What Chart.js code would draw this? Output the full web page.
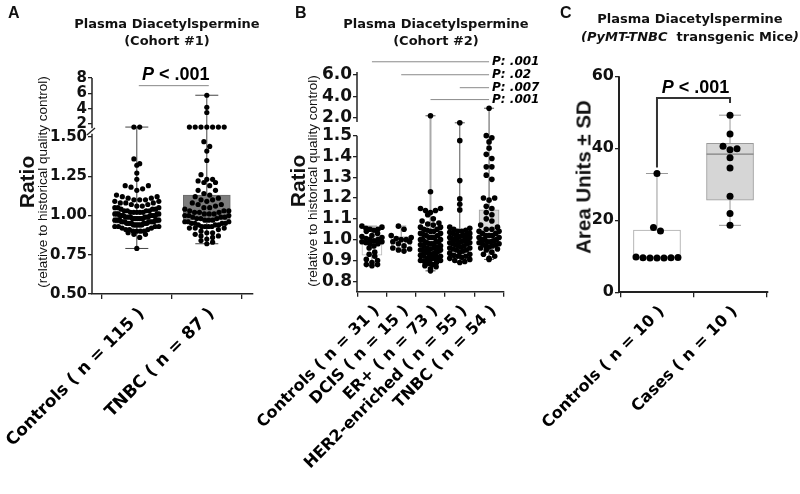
<!DOCTYPE html>
<html><head><meta charset="utf-8">
<script src="https://cdn.jsdelivr.net/npm/chart.js"></script>
<style>
html,body{margin:0;padding:0;background:#fff;}
#wrap{position:relative;width:800px;height:494px;overflow:hidden;background:#fff;}
canvas{position:absolute;top:0;}
.t{position:absolute;white-space:nowrap;color:#111;}
.letter{font:bold 16px "Liberation Sans",Arial,sans-serif;line-height:16px;}
.title{font:bold 13px "DejaVu Sans",sans-serif;line-height:17px;text-align:center;transform:translateX(-50%);}
.rot{transform:translate(-50%,-50%) rotate(-90deg);}
.ytl{font:bold 21px "Liberation Sans",Arial,sans-serif;line-height:21px;}
.yts{font:13.5px "Liberation Sans",Arial,sans-serif;line-height:14px;}
</style></head>
<body><div id="wrap">
<canvas id="chartA" width="280" height="494" style="left:0;width:280px;height:494px"></canvas>
<canvas id="chartB" width="315" height="494" style="left:245px;width:315px;height:494px"></canvas>
<canvas id="chartC" width="280" height="494" style="left:520px;width:280px;height:494px"></canvas>

<div class="t letter" style="left:8px;top:5px">A</div>
<div class="t letter" style="left:295px;top:5px">B</div>
<div class="t letter" style="left:560px;top:5px">C</div>

<div class="t title" style="left:167px;top:15px">Plasma Diacetylspermine<br>(Cohort #1)</div>
<div class="t title" style="left:436px;top:15px">Plasma Diacetylspermine<br>(Cohort #2)</div>
<div class="t title" style="left:690px;top:10px;line-height:18.3px">Plasma Diacetylspermine<br><i>(PyMT-TNBC</i>&nbsp; transgenic Mice<i>)</i></div>

<div class="t ytl rot" style="left:25.5px;top:182px">Ratio</div>
<div class="t yts rot" style="left:43px;top:181.5px">(relative to historical quality control)</div>
<div class="t ytl rot" style="left:296.5px;top:181px">Ratio</div>
<div class="t yts rot" style="left:313px;top:181px">(relative to historical quality control)</div>
<div class="t ytl rot" style="left:583px;top:177px;font-size:20.5px">Area Units ± SD</div>
</div>
<script>
// ---------------- DATA ----------------
// Panel A (Cohort #1)
const aCategories = ['Controls ( n = 115 )', 'TNBC ( n = 87 )'];
const aControls = [
  0.79, 0.86, 0.88, 0.88, 0.89, 0.90, 0.90, 0.90, 0.90, 0.91, 0.91, 0.91, 0.92, 0.92,
  0.93, 0.93, 0.93, 0.93, 0.94, 0.94, 0.94, 0.94, 0.94, 0.94,
  0.95, 0.95, 0.95, 0.95, 0.95, 0.95, 0.95, 0.96, 0.96, 0.96, 0.96, 0.96, 0.96, 0.96,
  0.97, 0.97, 0.97, 0.97, 0.97, 0.97, 0.97, 0.98, 0.98, 0.98, 0.98, 0.98, 0.98, 0.98,
  0.99, 0.99, 0.99, 0.99, 0.99, 0.99, 0.99, 1.00, 1.00, 1.00, 1.00, 1.00, 1.00, 1.00,
  1.01, 1.01, 1.01, 1.01, 1.01, 1.02, 1.02, 1.02, 1.02, 1.02, 1.03, 1.03, 1.03, 1.03,
  1.04, 1.04, 1.04, 1.05, 1.05, 1.05, 1.06, 1.06, 1.07, 1.07,
  1.08, 1.08, 1.08, 1.09, 1.09, 1.10, 1.10, 1.10, 1.11, 1.11, 1.12, 1.12, 1.13,
  1.16, 1.17, 1.18, 1.19, 1.19, 1.23, 1.27, 1.32, 1.33, 1.36, 1.60, 1.60
];
const aTNBC = [
  0.82, 0.83, 0.84, 0.85, 0.86, 0.87, 0.87, 0.88, 0.89, 0.89, 0.90, 0.91,
  0.92, 0.92, 0.92, 0.93, 0.93, 0.93, 0.93, 0.94, 0.94, 0.94, 0.95, 0.95, 0.95, 0.95, 0.96, 0.96, 0.96,
  0.97, 0.97, 0.97, 0.98, 0.98, 0.98, 0.99, 0.99, 0.99, 1.00, 1.00, 1.00, 1.01, 1.01, 1.01,
  1.02, 1.02, 1.02, 1.03, 1.03, 1.03, 1.04, 1.05, 1.05, 1.06, 1.07, 1.07, 1.08, 1.09, 1.10, 1.10, 1.11, 1.12,
  1.13, 1.14, 1.16, 1.16, 1.19, 1.21, 1.21, 1.22, 1.23, 1.23, 1.26, 1.35, 1.41, 1.44, 1.47,
  1.60, 1.60, 1.60, 1.60, 1.60, 1.60, 1.60, 3.50, 4.18, 5.75
];
const aQ1 = [0.95, 0.97];
const aMedian = [0.99, 1.02];
const aQ3 = [1.03, 1.13];
const aMin = [0.79, 0.82];
const aMax = [1.60, 5.75];
const aLowerTicks = [0.50, 0.75, 1.00, 1.25, 1.50];
const aUpperTicks = [2, 4, 6, 8];
const aSigPairs = [[0, 1]];
const aSigLevels = [7.0];
const aSigLabels = ['P < .001'];

// Panel B (Cohort #2)
const bCategories = ['Controls ( n = 31 )', 'DCIS ( n = 15 )', 'ER+ ( n = 73 )', 'HER2-enriched ( n = 55 )', 'TNBC ( n = 54 )'];
const bControls = [0.875, 0.88, 0.88, 0.89, 0.90, 0.905, 0.92, 0.93, 0.94,
  0.96, 0.97, 0.98, 0.98, 0.985, 0.99, 0.99, 0.995, 1.00, 1.00, 1.005, 1.01, 1.015, 1.02, 1.03,
  1.04, 1.045, 1.05, 1.05, 1.055, 1.06, 1.065];
const bDCIS = [0.945, 0.95, 0.955, 0.96, 0.97, 0.98, 0.99, 0.99, 1.00, 1.00, 1.005, 1.01, 1.02, 1.05, 1.065];
const bER = [2.2, 1.23, 1.15, 1.15, 1.14, 1.14, 1.13, 1.12,
  1.10, 1.09, 1.08, 1.075, 1.07, 1.06, 1.06, 1.05, 1.05, 1.045, 1.04, 1.04, 1.03, 1.03, 1.025,
  1.02, 1.02, 1.01, 1.01, 1.01, 1.00, 1.00, 1.00, 0.99, 0.99, 0.99, 0.985, 0.98, 0.98, 0.98, 0.975,
  0.97, 0.97, 0.965, 0.96, 0.96, 0.955, 0.95, 0.95, 0.95, 0.945, 0.94, 0.94, 0.94, 0.935, 0.935, 0.93, 0.93,
  0.925, 0.92, 0.92, 0.915, 0.91, 0.91, 0.905, 0.90, 0.90, 0.895, 0.89, 0.885, 0.88, 0.875, 0.87, 0.86, 0.85];
const bHER2 = [1.55, 1.476, 1.284, 1.196, 1.17, 1.143,
  1.06, 1.055, 1.05, 1.045, 1.04, 1.04, 1.035, 1.03, 1.03, 1.025, 1.02, 1.02, 1.015, 1.01, 1.01, 1.005,
  1.00, 1.00, 1.00, 1.00, 0.995, 0.99, 0.99, 0.985, 0.985, 0.98, 0.98, 0.975, 0.97, 0.97, 0.965, 0.96, 0.96,
  0.955, 0.95, 0.95, 0.945, 0.94, 0.935, 0.93, 0.925, 0.92, 0.92, 0.915, 0.91, 0.905, 0.90, 0.895, 0.89];
const bTNBC = [2.9,
  1.50, 1.49, 1.47, 1.44, 1.41, 1.39, 1.35, 1.35, 1.31, 1.29, 1.20, 1.20, 1.19, 1.16, 1.15, 1.13, 1.12, 1.10, 1.09, 1.07,
  1.06, 1.05, 1.05, 1.04, 1.04, 1.03, 1.03, 1.02, 1.02, 1.02, 1.01, 1.01, 1.00, 1.00, 1.00, 0.995, 0.99, 0.99,
  0.985, 0.98, 0.98, 0.975, 0.97, 0.97, 0.965, 0.96, 0.955, 0.95, 0.94, 0.93, 0.92, 0.91, 0.905];
const bQ1 = [0.925, 0.96, 0.935, 0.955, 0.978];
const bMedian = [0.995, 0.99, 0.98, 1.00, 1.03];
const bQ3 = [1.015, 1.015, 1.025, 1.035, 1.143];
const bMin = [0.875, 0.945, 0.85, 0.89, 0.905];
const bMax = [1.065, 1.065, 2.2, 1.55, 2.9];
const bLowerTicks = [0.8, 0.9, 1.0, 1.1, 1.2, 1.3, 1.4, 1.5];
const bUpperTicks = [2.0, 4.0, 6.0];
const bSigPairs = [[0, 4], [1, 4], [3, 4], [2, 4]];
const bSigLevels = [7.2, 6.0, 4.8, 3.7];
const bSigLabels = ['P: .001', 'P: .02', 'P: .007', 'P: .001'];

// Panel C (PyMT-TNBC transgenic mice)
const cCategories = ['Controls ( n = 10 )', 'Cases ( n = 10 )'];
const cControls = [33.0, 18.0, 17.0, 9.8, 9.6, 9.5, 9.5, 9.5, 9.6, 9.7];
const cCases = [49.2, 44.0, 40.6, 39.9, 39.6, 37.4, 34.5, 26.7, 21.9, 18.6];
const cQ1 = [9.6, 25.6];
const cMedian = [9.7, 38.4];
const cQ3 = [17.3, 41.4];
const cMin = [9.5, 18.6];
const cMax = [33.0, 49.2];
const cTicks = [0, 20, 40, 60];
const cSigPair = [0, 1];
const cSigTop = 54;
const cSigLegs = [34.7, 52.6];
const cSigLabel = 'P < .001';

// ---------------- STYLE / LAYOUT ----------------
const DV = '"DejaVu Sans"';
const LS = '"Liberation Sans", Arial';

const specA = {
  canvas: 'chartA', cats: aCategories, groups: [aControls, aTNBC],
  q1: aQ1, med: aMedian, q3: aQ3, lo: aMin, hi: aMax,
  split: 1.52, xMin: -0.64, xMax: 1.66,
  yLow: {min: 0.5, max: 1.538, ticks: aLowerTicks, dec: 2, weight: 163},
  yHigh: {min: 1.087, max: 8.26, ticks: aUpperTicks, dec: 0, weight: 55},
  pad: {left: 0, right: 27, top: 76, bottom: 0}, yAxisW: 92, xAxisH: 200,
  yFont: 15, xFont: 17, axisW: 1.5,
  boxW: 47, boxFill: ['#ffffff', '#7d7d7d'], boxLine: ['#b0b0b0', '#6a6a6a'], medColor: ['#b0b0b0', '#6a6a6a'],
  capW: 23, whiskColor: ['#444', '#444'], whiskW: [1, 1],
  r: 2.6, gap: 5.8, maxW: 44, rowH: 5,
  axisSegs: [{scale: 'yHigh', from: 8.0, to: 1.45}, {scale: 'y', from: 1.52, to: 0.5}],
  breakMark: true,
  sig: {type: 'bracketText', pairs: aSigPairs, levels: aSigLevels, labels: aSigLabels}
};
const specB = {
  canvas: 'chartB', cats: bCategories, groups: [bControls, bDCIS, bER, bHER2, bTNBC],
  q1: bQ1, med: bMedian, q3: bQ3, lo: bMin, hi: bMax,
  split: 1.52, xMin: -0.51, xMax: 4.51,
  yLow: {min: 0.75, max: 1.5436, ticks: bLowerTicks, dec: 1, weight: 165.07},
  yHigh: {min: 1.2, max: 6.3, ticks: bUpperTicks, dec: 1, weight: 55.08},
  pad: {left: 0, right: 56, top: 71.5, bottom: 0}, yAxisW: 112, xAxisH: 202.35,
  yFont: 17, xFont: 16, axisW: 1.5,
  boxW: 20, boxFill: ['#ffffff', '#ffffff', '#ffffff', '#f4f4f4', '#dadada'],
  boxLine: ['#b8b8b8', '#b8b8b8', '#b8b8b8', '#b0b0b0', '#a0a0a0'], medColor: ['#bbb', '#bbb', '#bbb', '#bbb', '#999'],
  capW: 10, whiskColor: ['#888', '#888', '#aaa', '#555', '#555'], whiskW: [1, 1, 2, 1, 1],
  r: 2.8, gap: 5.6, maxW: 20, rowH: 5.2,
  axisSegs: [{scale: 'yHigh', from: 6.25, to: 1.63}, {scale: 'y', from: 1.5, to: 0.75}],
  breakMark: false,
  sig: {type: 'lineLabels', pairs: bSigPairs, levels: bSigLevels, labels: bSigLabels}
};
const specC = {
  canvas: 'chartC', cats: cCategories, groups: [cControls, cCases],
  q1: cQ1, med: cMedian, q3: cQ3, lo: cMin, hi: cMax,
  split: undefined, xMin: -0.52, xMax: 1.52,
  yLow: {min: 0, max: 60, ticks: cTicks, dec: 0},
  yHigh: null,
  pad: {left: 0, right: 32, top: 76.3, bottom: 0}, yAxisW: 99, xAxisH: 201.7,
  yFont: 16, xFont: 16, axisW: 2,
  boxW: 47, boxFill: ['#ffffff', '#d6d6d6'], boxLine: ['#aaaaaa', '#9a9a9a'], medColor: ['#aaa', '#808080'],
  capW: 22, whiskColor: ['#999', '#999'], whiskW: [1, 1],
  r: 3.5, gap: 7, maxW: 46, rowH: 7,
  axisSegs: [{scale: 'y', from: 60, to: 0}],
  breakMark: false,
  sig: {type: 'cBracket', pair: cSigPair, top: cSigTop, legs: cSigLegs, label: cSigLabel}
};

// ---------------- HELPERS ----------------
function yPix(chart, spec, v) {
  if (spec.split !== undefined && v > spec.split) return chart.scales.yHigh.getPixelForValue(v);
  return chart.scales.y.getPixelForValue(v);
}

function yScale(spec, o) {
  const s = {
    type: 'linear', position: 'left', min: o.min, max: o.max, offset: false, bounds: 'data',
    afterBuildTicks: sc => { sc.ticks = o.ticks.map(v => ({value: v})); },
    afterFit: sc => { sc.width = spec.yAxisW; },
    ticks: {autoSkip: false, padding: 1, color: '#111', font: {family: DV, size: spec.yFont, weight: 'bold'},
      callback: v => Number(v).toFixed(o.dec)},
    grid: {display: true, drawOnChartArea: false, drawTicks: true, tickLength: 4, color: '#222', lineWidth: 1.3},
    border: {display: false}
  };
  if (o.weight) { s.stack = 'ratio'; s.stackWeight = o.weight; }
  return s;
}

function makeScales(spec) {
  const scales = {
    x: {
      type: 'linear', min: spec.xMin, max: spec.xMax, offset: false, bounds: 'data',
      afterBuildTicks: s => { s.ticks = spec.cats.map((c, i) => ({value: i})); },
      afterFit: s => { s.height = spec.xAxisH; s.paddingLeft = 0; s.paddingRight = 0; },
      ticks: {autoSkip: false, minRotation: 45, maxRotation: 45, padding: 5, labelOffset: 5, color: '#000',
        font: {family: DV, size: spec.xFont, weight: 'bold'}, callback: v => spec.cats[v]},
      grid: {display: true, drawOnChartArea: false, drawTicks: true, tickLength: 5, color: '#222', lineWidth: 1.3},
      border: {display: true, color: '#222', width: spec.axisW}
    },
    y: yScale(spec, spec.yLow)
  };
  if (spec.yHigh) scales.yHigh = yScale(spec, spec.yHigh);
  return scales;
}

function drawPText(ctx, text, cx, baseY, size, family) {
  const first = text.slice(0, 1), rest = text.slice(1);
  ctx.font = `italic bold ${size}px ${family}`;
  const w1 = ctx.measureText(first).width;
  ctx.font = `bold ${size}px ${family}`;
  const w2 = ctx.measureText(rest).width;
  let x = cx - (w1 + w2) / 2;
  ctx.textAlign = 'left'; ctx.textBaseline = 'alphabetic'; ctx.fillStyle = '#000';
  ctx.font = `italic bold ${size}px ${family}`; ctx.fillText(first, x, baseY);
  ctx.font = `bold ${size}px ${family}`; ctx.fillText(rest, x + w1, baseY);
}

function makePlugin(spec) {
  return {
    id: 'boxExtras',
    beforeDatasetsDraw(chart) {
      const ctx = chart.ctx, xs = chart.scales.x;
      ctx.save();
      spec.cats.forEach((c, i) => {
        const x = xs.getPixelForValue(i);
        const y0 = yPix(chart, spec, spec.lo[i]), y1 = yPix(chart, spec, spec.hi[i]);
        ctx.strokeStyle = spec.whiskColor[i]; ctx.lineWidth = spec.whiskW[i];
        ctx.beginPath();
        ctx.moveTo(x, y0); ctx.lineTo(x, y1);
        ctx.stroke();
        ctx.lineWidth = 1; ctx.strokeStyle = spec.whiskColor[i] === '#aaa' ? '#555' : spec.whiskColor[i];
        ctx.beginPath();
        ctx.moveTo(x - spec.capW / 2, y0); ctx.lineTo(x + spec.capW / 2, y0);
        ctx.moveTo(x - spec.capW / 2, y1); ctx.lineTo(x + spec.capW / 2, y1);
        ctx.stroke();
      });
      ctx.restore();
    },
    afterDatasetDraw(chart, args) {
      if (args.index !== 0) return;
      const ctx = chart.ctx, xs = chart.scales.x;
      ctx.save();
      spec.cats.forEach((c, i) => {
        const x = xs.getPixelForValue(i), y = yPix(chart, spec, spec.med[i]);
        ctx.strokeStyle = spec.medColor[i]; ctx.lineWidth = 1.2;
        ctx.beginPath(); ctx.moveTo(x - spec.boxW / 2, y); ctx.lineTo(x + spec.boxW / 2, y); ctx.stroke();
      });
      ctx.restore();
    },
    afterDraw(chart) {
      const ctx = chart.ctx, xs = chart.scales.x, left = chart.chartArea.left;
      ctx.save();
      ctx.strokeStyle = '#222'; ctx.lineWidth = spec.axisW;
      spec.axisSegs.forEach(seg => {
        const sc = chart.scales[seg.scale];
        ctx.beginPath();
        ctx.moveTo(left, sc.getPixelForValue(seg.from));
        ctx.lineTo(left, sc.getPixelForValue(seg.to));
        ctx.stroke();
      });
      if (spec.breakMark) {
        const yb = (chart.scales.yHigh.getPixelForValue(spec.axisSegs[0].to) + chart.scales.y.getPixelForValue(spec.axisSegs[1].from)) / 2;
        ctx.lineWidth = 1.3;
        ctx.beginPath(); ctx.moveTo(left - 5, yb + 4); ctx.lineTo(left + 3, yb - 3); ctx.stroke();
      }
      const sig = spec.sig;
      if (sig.type === 'bracketText') {
        sig.pairs.forEach((p, k) => {
          const y = chart.scales.yHigh.getPixelForValue(sig.levels[k]);
          const x0 = xs.getPixelForValue(p[0]) + 2, x1 = xs.getPixelForValue(p[1]) + 2;
          ctx.strokeStyle = '#888'; ctx.lineWidth = 1;
          ctx.beginPath(); ctx.moveTo(x0, y); ctx.lineTo(x1, y); ctx.stroke();
          drawPText(ctx, sig.labels[k], (x0 + x1) / 2 + 2, y - 6, 18, LS);
        });
      } else if (sig.type === 'lineLabels') {
        sig.pairs.forEach((p, k) => {
          const y = chart.scales.yHigh.getPixelForValue(sig.levels[k]);
          const x0 = xs.getPixelForValue(p[0]), x1 = xs.getPixelForValue(p[1]);
          ctx.strokeStyle = '#8a8a8a'; ctx.lineWidth = 1;
          ctx.beginPath(); ctx.moveTo(x0, y); ctx.lineTo(x1, y); ctx.stroke();
          ctx.font = `italic bold 12px ${DV}`; ctx.fillStyle = '#000';
          ctx.textAlign = 'left'; ctx.textBaseline = 'middle';
          ctx.fillText(sig.labels[k], x1 + 3, y + 0.5);
        });
      } else if (sig.type === 'cBracket') {
        const ys = chart.scales.y;
        const x0 = xs.getPixelForValue(sig.pair[0]), x1 = xs.getPixelForValue(sig.pair[1]);
        const yt = ys.getPixelForValue(sig.top);
        ctx.strokeStyle = '#333'; ctx.lineWidth = 2;
        ctx.beginPath();
        ctx.moveTo(x0, ys.getPixelForValue(sig.legs[0])); ctx.lineTo(x0, yt);
        ctx.lineTo(x1, yt); ctx.lineTo(x1, ys.getPixelForValue(sig.legs[1]));
        ctx.stroke();
        drawPText(ctx, sig.label, (x0 + x1) / 2 + 2, yt - 5, 18, LS);
      }
      ctx.restore();
    }
  };
}

function swarm(chart, spec) {
  const xs = chart.scales.x;
  const pxPerCat = xs.getPixelForValue(1) - xs.getPixelForValue(0);
  const low = [], high = [];
  spec.groups.forEach((vals, gi) => {
    const pts = vals.map(v => ({v, y: yPix(chart, spec, v), dx: 0})).sort((a, b) => a.y - b.y);
    const rows = [];
    let cur = null;
    pts.forEach(p => {
      if (!cur || p.y - cur.y0 > spec.rowH) { cur = {y0: p.y, pts: []}; rows.push(cur); }
      cur.pts.push(p);
    });
    rows.forEach(row => {
      const n = row.pts.length;
      const s = n > 1 ? Math.min(spec.gap, spec.maxW / (n - 1)) : 0;
      const slots = [];
      for (let j = 0; j < n; j++) slots.push((j - (n - 1) / 2) * s);
      slots.sort((a, b) => Math.abs(b) - Math.abs(a) || a - b);
      const byVal = row.pts.slice().sort((a, b) => b.v - a.v);
      byVal.forEach((p, k) => { p.dx = slots[k]; });
    });
    pts.forEach(p => {
      const d = {x: gi + p.dx / pxPerCat, y: p.v};
      if (spec.split !== undefined && p.v > spec.split) high.push(d); else low.push(d);
    });
  });
  return {low, high};
}

function buildPanel(spec) {
  const datasets = [
    {type: 'bar', yAxisID: 'y', order: 3, grouped: false,
      data: spec.cats.map((c, i) => ({x: i, y: [spec.q1[i], spec.q3[i]]})),
      backgroundColor: spec.boxFill, borderColor: spec.boxLine, borderWidth: 1,
      borderSkipped: false, barThickness: spec.boxW},
    {type: 'scatter', yAxisID: 'y', order: 1, data: [],
      pointRadius: spec.r, pointBackgroundColor: '#000', pointBorderWidth: 0, backgroundColor: '#000'}
  ];
  if (spec.yHigh) datasets.push({type: 'scatter', yAxisID: 'yHigh', order: 1, data: [],
      pointRadius: spec.r, pointBackgroundColor: '#000', pointBorderWidth: 0, backgroundColor: '#000'});
  const chart = new Chart(document.getElementById(spec.canvas), {
    type: 'scatter',
    data: {datasets},
    options: {
      responsive: false, animation: false, events: [],
      layout: {padding: spec.pad},
      plugins: {legend: {display: false}, tooltip: {enabled: false}},
      scales: makeScales(spec)
    },
    plugins: [makePlugin(spec)]
  });
  const sw = swarm(chart, spec);
  chart.data.datasets[1].data = sw.low;
  if (spec.yHigh) chart.data.datasets[2].data = sw.high;
  chart.update('none');
  return chart;
}

buildPanel(specA);
buildPanel(specB);
buildPanel(specC);
</script>
</body></html>
